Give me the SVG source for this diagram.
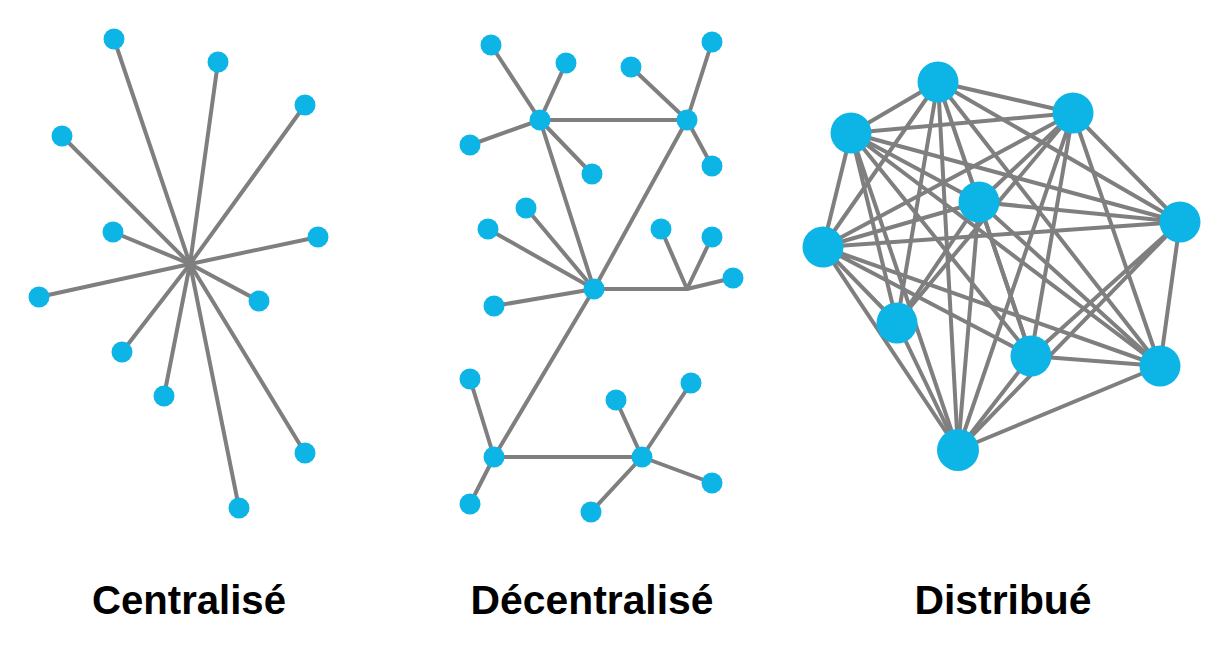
<svg xmlns="http://www.w3.org/2000/svg" width="1222" height="653" viewBox="0 0 1222 653">
<style>
.e{stroke:#7f7f7f;stroke-width:4;fill:none;stroke-linecap:round}
.n{fill:#0db5e6}
.t{font-family:"Liberation Sans",Arial,sans-serif;font-weight:bold;font-size:41px;fill:#000;text-anchor:middle}
</style>
<rect width="1222" height="653" fill="#fff"/>
<g id="connectors">
<g id="c-centralise">
<line class="e" x1="190" y1="264" x2="114" y2="39"/>
<line class="e" x1="190" y1="264" x2="218" y2="62"/>
<line class="e" x1="190" y1="264" x2="305" y2="105"/>
<line class="e" x1="190" y1="264" x2="62" y2="136"/>
<line class="e" x1="190" y1="264" x2="113" y2="232"/>
<line class="e" x1="190" y1="264" x2="318" y2="237"/>
<line class="e" x1="190" y1="264" x2="39" y2="297"/>
<line class="e" x1="190" y1="264" x2="259" y2="301"/>
<line class="e" x1="190" y1="264" x2="122" y2="352"/>
<line class="e" x1="190" y1="264" x2="164" y2="396"/>
<line class="e" x1="190" y1="264" x2="305" y2="453"/>
<line class="e" x1="190" y1="264" x2="239" y2="508"/>
</g>
<g id="c-decentralise">
<line class="e" x1="540" y1="120" x2="687" y2="120"/>
<line class="e" x1="540" y1="120" x2="594" y2="289"/>
<line class="e" x1="687" y1="120" x2="594" y2="289"/>
<line class="e" x1="540" y1="120" x2="491" y2="45"/>
<line class="e" x1="540" y1="120" x2="566" y2="63"/>
<line class="e" x1="540" y1="120" x2="470" y2="145"/>
<line class="e" x1="540" y1="120" x2="592" y2="174"/>
<line class="e" x1="687" y1="120" x2="631" y2="67"/>
<line class="e" x1="687" y1="120" x2="712" y2="42"/>
<line class="e" x1="687" y1="120" x2="712" y2="166"/>
<line class="e" x1="594" y1="289" x2="488" y2="229"/>
<line class="e" x1="594" y1="289" x2="526" y2="208"/>
<line class="e" x1="594" y1="289" x2="494" y2="306"/>
<line class="e" x1="594" y1="289" x2="687" y2="289"/>
<line class="e" x1="687" y1="289" x2="661" y2="229"/>
<line class="e" x1="687" y1="289" x2="712" y2="237"/>
<line class="e" x1="687" y1="289" x2="733" y2="278"/>
<line class="e" x1="594" y1="289" x2="494" y2="457"/>
<line class="e" x1="494" y1="457" x2="470" y2="379"/>
<line class="e" x1="494" y1="457" x2="470" y2="504"/>
<line class="e" x1="494" y1="457" x2="642" y2="457"/>
<line class="e" x1="642" y1="457" x2="616" y2="400"/>
<line class="e" x1="642" y1="457" x2="691" y2="383"/>
<line class="e" x1="642" y1="457" x2="712" y2="483"/>
<line class="e" x1="642" y1="457" x2="591" y2="512"/>
</g>
<g id="c-distribue">
<path class="e" d="M938 82L1073 113M938 82L851 133M938 82L979 202M938 82L1180 222M938 82L823 247M938 82L897 323M938 82L1031 356M938 82L1160 366M938 82L958 450"/>
<path class="e" d="M1073 113L851 133M1073 113L979 202M1073 113L1180 222M1073 113L823 247M1073 113L897 323M1073 113L1031 356M1073 113L1160 366M1073 113L958 450"/>
<path class="e" d="M851 133L979 202M851 133L1180 222M851 133L823 247M851 133L897 323M851 133L1031 356M851 133L1160 366M851 133L958 450"/>
<path class="e" d="M979 202L1180 222M979 202L823 247M979 202L897 323M979 202L1031 356M979 202L1160 366M979 202L958 450"/>
<path class="e" d="M1180 222L823 247M1180 222L1031 356M1180 222L1160 366M1180 222L958 450"/>
<path class="e" d="M823 247L897 323M823 247L1031 356M823 247L1160 366M823 247L958 450"/>
<path class="e" d="M897 323L958 450"/>
<path class="e" d="M1031 356L1160 366M1031 356L958 450"/>
<path class="e" d="M1160 366L958 450"/>
</g>
</g>
<g id="centralise">
<circle class="n" cx="114" cy="39" r="10.5"/>
<circle class="n" cx="218" cy="62" r="10.5"/>
<circle class="n" cx="305" cy="105" r="10.5"/>
<circle class="n" cx="62" cy="136" r="10.5"/>
<circle class="n" cx="113" cy="232" r="10.5"/>
<circle class="n" cx="318" cy="237" r="10.5"/>
<circle class="n" cx="39" cy="297" r="10.5"/>
<circle class="n" cx="259" cy="301" r="10.5"/>
<circle class="n" cx="122" cy="352" r="10.5"/>
<circle class="n" cx="164" cy="396" r="10.5"/>
<circle class="n" cx="305" cy="453" r="10.5"/>
<circle class="n" cx="239" cy="508" r="10.5"/>
</g>
<g id="decentralise">
<circle class="n" cx="540" cy="120" r="10.5"/>
<circle class="n" cx="687" cy="120" r="10.5"/>
<circle class="n" cx="594" cy="289" r="10.5"/>
<circle class="n" cx="494" cy="457" r="10.5"/>
<circle class="n" cx="642" cy="457" r="10.5"/>
<circle class="n" cx="491" cy="45" r="10.5"/>
<circle class="n" cx="566" cy="63" r="10.5"/>
<circle class="n" cx="470" cy="145" r="10.5"/>
<circle class="n" cx="592" cy="174" r="10.5"/>
<circle class="n" cx="631" cy="67" r="10.5"/>
<circle class="n" cx="712" cy="42" r="10.5"/>
<circle class="n" cx="712" cy="166" r="10.5"/>
<circle class="n" cx="488" cy="229" r="10.5"/>
<circle class="n" cx="526" cy="208" r="10.5"/>
<circle class="n" cx="494" cy="306" r="10.5"/>
<circle class="n" cx="661" cy="229" r="10.5"/>
<circle class="n" cx="712" cy="237" r="10.5"/>
<circle class="n" cx="733" cy="278" r="10.5"/>
<circle class="n" cx="470" cy="379" r="10.5"/>
<circle class="n" cx="470" cy="504" r="10.5"/>
<circle class="n" cx="616" cy="400" r="10.5"/>
<circle class="n" cx="691" cy="383" r="10.5"/>
<circle class="n" cx="712" cy="483" r="10.5"/>
<circle class="n" cx="591" cy="512" r="10.5"/>
</g>
<g id="distribue">
<circle class="n" cx="938" cy="82" r="20.5"/>
<circle class="n" cx="1073" cy="113" r="20.5"/>
<circle class="n" cx="851" cy="133" r="20.5"/>
<circle class="n" cx="979" cy="202" r="20.5"/>
<circle class="n" cx="1180" cy="222" r="20.5"/>
<circle class="n" cx="823" cy="247" r="20.5"/>
<circle class="n" cx="897" cy="323" r="20.5"/>
<circle class="n" cx="1031" cy="356" r="20.5"/>
<circle class="n" cx="1160" cy="366" r="20.5"/>
<circle class="n" cx="958" cy="450" r="21"/>
</g>
<g id="labels">
<text class="t" x="189" y="614" textLength="194" lengthAdjust="spacingAndGlyphs">Centralisé</text>
<text class="t" x="592" y="614" textLength="243" lengthAdjust="spacingAndGlyphs">Décentralisé</text>
<text class="t" x="1003" y="614" textLength="177" lengthAdjust="spacingAndGlyphs">Distribué</text>
</g>
</svg>
